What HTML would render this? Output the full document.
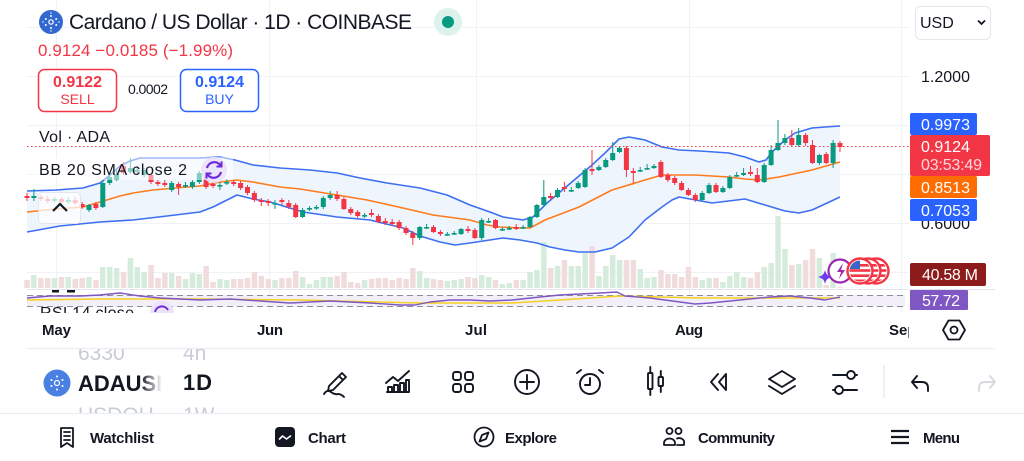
<!DOCTYPE html>
<html><head><meta charset="utf-8"><style>
html,body{margin:0;padding:0;background:#fff;}
svg{display:block;}
</style></head><body>
<svg width="1024" height="461" viewBox="0 0 1024 461" xmlns="http://www.w3.org/2000/svg" font-family="'Liberation Sans', Arial, sans-serif">
<defs>
<clipPath id="sepclip"><rect x="0" y="313" width="909" height="35"/></clipPath>
<clipPath id="pick"><rect x="0" y="349" width="300" height="64"/></clipPath>
<clipPath id="rsiclip"><rect x="0" y="289" width="1024" height="24"/></clipPath>
<clipPath id="flagc"><circle cx="0" cy="0" r="10.5"/></clipPath>
<linearGradient id="fade" x1="0" x2="1" y1="0" y2="0"><stop offset="0" stop-color="#fff" stop-opacity="0"/><stop offset="1" stop-color="#fff" stop-opacity="1"/></linearGradient>
<g id="flag"><circle r="12.5" fill="#fff" stroke="#f23645" stroke-width="2.4"/><g clip-path="url(#flagc)"><rect x="-11" y="-11" width="22" height="22" fill="#fff"/><rect x="-11" y="-7" width="22" height="2.6" fill="#f23645"/><rect x="-11" y="-1.8" width="22" height="2.6" fill="#f23645"/><rect x="-11" y="3.4" width="22" height="2.6" fill="#f23645"/><rect x="-11" y="8.5" width="22" height="2.6" fill="#f23645"/><rect x="-11" y="-11" width="11" height="9" fill="#3d63c9"/></g></g>
</defs>

<!-- grid -->
<g stroke="#f0f2f6" stroke-width="1">
<path d="M27 27.5H909M27 76.5H909M27 125.5H909M27 174.5H909M27 223.5H909M27 272.5H909"/>
<path d="M56.5 0V313M269.5 0V313M476.5 0V313M689.5 0V313M901.5 0V313"/>
</g>
<path d="M27 289.5H995" stroke="#e3e6ec" stroke-width="1"/>

<!-- bollinger fill -->
<polygon fill="#eef5fd" points="27,191 56,190 83,188 100,183 110,175 120,166 130,161 140,158 170,158 200,158 220,157 235,160 253,165 280,168 310,170 337,173 360,178 387,183 420,188 447,195 470,205 490,212 503,217 523,220 533,217 547,203 560,192 579,176 592,165 605,153 619,139 629,137 645,140 662,147 679,150 700,151 729,153 745,157 759,162 766,160 772,152 785,140 795,133 812,128 825,127 840,126 840,197 825,204 812,210 799,213 785,211 765,205 745,199 712,203 679,197 672,200 662,207 645,220 629,237 612,248 595,252 579,252 565,250 550,247 537,243 520,240 503,238 470,243 455,245 440,242 420,236 403,228 370,220 337,217 303,212 270,202 253,199 237,195 227,200 213,207 200,212 167,216 133,220 100,222 60,226 27,232"/>

<!-- volume -->
<path fill="#d5ecdc" d="M31.1 275h5.5V288h-5.5zM51.8 278h5.5V288h-5.5zM65.5 277h5.5V288h-5.5zM86.2 277h5.5V288h-5.5zM100 267h5.5V288h-5.5zM107 267h5.5V288h-5.5zM113.9 268h5.5V288h-5.5zM127.7 258h5.5V288h-5.5zM134.5 267h5.5V288h-5.5zM141.4 272h5.5V288h-5.5zM169 273h5.5V288h-5.5zM182.8 279h5.5V288h-5.5zM189.7 273h5.5V288h-5.5zM196.6 274h5.5V288h-5.5zM217.2 279h5.5V288h-5.5zM224.1 280h5.5V288h-5.5zM272.3 280h5.5V288h-5.5zM299.9 277h5.5V288h-5.5zM306.8 284h5.5V288h-5.5zM313.7 280h5.5V288h-5.5zM320.6 277h5.5V288h-5.5zM327.5 277h5.5V288h-5.5zM361.9 280h5.5V288h-5.5zM417 271h5.5V288h-5.5zM423.9 278h5.5V288h-5.5zM444.6 281h5.5V288h-5.5zM451.5 280h5.5V288h-5.5zM458.4 279h5.5V288h-5.5zM479 275h5.5V288h-5.5zM485.9 277h5.5V288h-5.5zM499.7 284h5.5V288h-5.5zM506.6 283h5.5V288h-5.5zM520.4 280h5.5V288h-5.5zM527.3 272h5.5V288h-5.5zM534.2 270h5.5V288h-5.5zM541.1 242h5.5V288h-5.5zM554.8 266h5.5V288h-5.5zM568.6 266h5.5V288h-5.5zM575.5 266h5.5V288h-5.5zM582.4 253h5.5V288h-5.5zM596.2 276h5.5V288h-5.5zM603.1 266h5.5V288h-5.5zM610 255h5.5V288h-5.5zM616.8 260h5.5V288h-5.5zM637.5 269h5.5V288h-5.5zM644.4 278h5.5V288h-5.5zM651.3 277h5.5V288h-5.5zM699.5 280h5.5V288h-5.5zM706.4 278h5.5V288h-5.5zM720.2 282h5.5V288h-5.5zM727.1 276h5.5V288h-5.5zM734 272h5.5V288h-5.5zM740.9 277h5.5V288h-5.5zM761.5 267h5.5V288h-5.5zM768.4 263h5.5V288h-5.5zM775.3 216h5.5V288h-5.5zM782.2 249h5.5V288h-5.5zM796 264h5.5V288h-5.5zM816.7 258h5.5V288h-5.5zM830.4 253h5.5V288h-5.5z"/>
<path fill="#f0dcdc" d="M24.3 280h5.5V288h-5.5zM38.1 278h5.5V288h-5.5zM45 278h5.5V288h-5.5zM58.8 277h5.5V288h-5.5zM72.5 279h5.5V288h-5.5zM79.4 278h5.5V288h-5.5zM93.2 280h5.5V288h-5.5zM120.8 272h5.5V288h-5.5zM148.3 265h5.5V288h-5.5zM155.2 278h5.5V288h-5.5zM162.1 273h5.5V288h-5.5zM175.9 276h5.5V288h-5.5zM203.4 266h5.5V288h-5.5zM210.3 282h5.5V288h-5.5zM231 279h5.5V288h-5.5zM237.9 279h5.5V288h-5.5zM244.8 278h5.5V288h-5.5zM251.7 272h5.5V288h-5.5zM258.6 276h5.5V288h-5.5zM265.5 279h5.5V288h-5.5zM279.2 278h5.5V288h-5.5zM286.1 278h5.5V288h-5.5zM293 271h5.5V288h-5.5zM334.4 276h5.5V288h-5.5zM341.2 272h5.5V288h-5.5zM348.1 282h5.5V288h-5.5zM355 283h5.5V288h-5.5zM368.8 279h5.5V288h-5.5zM375.7 278h5.5V288h-5.5zM382.6 278h5.5V288h-5.5zM389.5 280h5.5V288h-5.5zM396.4 278h5.5V288h-5.5zM403.3 279h5.5V288h-5.5zM410.1 268h5.5V288h-5.5zM430.8 279h5.5V288h-5.5zM437.7 280h5.5V288h-5.5zM465.3 277h5.5V288h-5.5zM472.2 278h5.5V288h-5.5zM492.8 280h5.5V288h-5.5zM513.5 280h5.5V288h-5.5zM547.9 268h5.5V288h-5.5zM561.7 260h5.5V288h-5.5zM589.3 246h5.5V288h-5.5zM623.7 260h5.5V288h-5.5zM630.6 260h5.5V288h-5.5zM658.2 270h5.5V288h-5.5zM665.1 274h5.5V288h-5.5zM672 274h5.5V288h-5.5zM678.9 277h5.5V288h-5.5zM685.7 267h5.5V288h-5.5zM692.6 277h5.5V288h-5.5zM713.3 278h5.5V288h-5.5zM747.8 278h5.5V288h-5.5zM754.6 272h5.5V288h-5.5zM789.1 265h5.5V288h-5.5zM802.9 260h5.5V288h-5.5zM809.8 249h5.5V288h-5.5zM823.5 285h5.5V288h-5.5zM837.3 287h5.5V288h-5.5z"/>

<!-- bands -->
<polyline fill="none" stroke="#3d6ff2" stroke-width="1.6" stroke-linejoin="round" points="27,191 56,190 83,188 100,183 110,175 120,166 130,161 140,158 170,158 200,158 220,157 235,160 253,165 280,168 310,170 337,173 360,178 387,183 420,188 447,195 470,205 490,212 503,217 523,220 533,217 547,203 560,192 579,176 592,165 605,153 619,139 629,137 645,140 662,147 679,150 700,151 729,153 745,157 759,162 766,160 772,152 785,140 795,133 812,128 825,127 840,126"/>
<polyline fill="none" stroke="#3d6ff2" stroke-width="1.6" stroke-linejoin="round" points="27,232 60,226 100,222 133,220 167,216 200,212 213,207 227,200 237,195 253,199 270,202 303,212 337,217 370,220 403,228 420,236 440,242 455,245 470,243 503,238 520,240 537,243 550,247 565,250 579,252 595,252 612,248 629,237 645,220 662,207 672,200 679,197 712,203 745,199 765,205 785,211 799,213 812,210 825,204 840,197"/>
<polyline fill="none" stroke="#ff7b1c" stroke-width="1.6" stroke-linejoin="round" points="27,212 56,209 83,207 100,202 120,196 133,193 153,190 187,187 200,186 220,182 237,180 253,182 280,187 300,189 337,195 367,200 403,208 433,215 470,220 487,225 500,227 522,228 530,228 545,220 579,207 612,190 645,180 662,175 695,175 729,177 745,179 759,180 779,177 812,170 840,162"/>

<!-- candles: red -->
<path stroke="#f23645" stroke-width="1" fill="none" d="M27 193V201M40.8 195V201M47.7 196V203M61.5 197V204M75.2 197V205M82.1 202V209M95.9 202V210M123.5 162V175M151 173V184M157.9 180V186M164.8 180V187M178.6 182V195M206.1 172V189M213 181V188M233.7 180V186M240.6 181V190M247.5 185V195M254.4 191V202M261.3 198V206M268.2 199V206M281.9 198V205M288.8 200V209M295.7 203V218M337.1 191V201M343.9 197V210M350.8 207V215M357.7 210V218M371.5 209V217M378.4 214V223M385.3 218V225M392.2 219V226M399.1 220V230M406 226V235M412.8 231V245M433.5 225V233M440.4 230V236M468 226V233M474.9 228V239M495.5 219V229M516.2 224V230M550.6 193V200M564.4 182V192M592 150V175M626.4 146V177M633.3 168V183M660.9 160V178M667.8 173V182M674.7 176V185M681.6 181V191M688.4 188V196M695.3 193V202M716 183V193M750.5 166V176M757.3 168V183M791.8 130V147M805.6 133V146M812.5 140V164M826.2 152V164M840 141V152"/>
<path fill="#f23645" d="M24.5 196h5v2h-5zM38.3 197h5v2h-5zM45.2 199h5v2h-5zM59 199h5v3h-5zM72.7 200h5v3h-5zM79.6 204h5v3h-5zM93.4 204h5v4h-5zM121 166h5v7h-5zM148.5 175h5v7h-5zM155.4 182h5v2h-5zM162.3 183h5v2h-5zM176.1 184h5v3h-5zM203.6 175h5v12h-5zM210.5 184h5v2h-5zM231.2 182h5v2h-5zM238.1 183h5v5h-5zM245 187h5v6h-5zM251.9 193h5v7h-5zM258.8 200h5v2h-5zM265.7 201h5v2h-5zM279.4 200h5v2h-5zM286.3 203h5v4h-5zM293.2 205h5v12h-5zM334.6 195h5v4h-5zM341.4 199h5v10h-5zM348.3 209h5v4h-5zM355.2 212h5v4h-5zM369 213h5v2h-5zM375.9 216h5v6h-5zM382.8 221h5v2h-5zM389.7 222h5v2h-5zM396.6 222h5v6h-5zM403.5 228h5v5h-5zM410.3 233h5v5h-5zM431 227h5v5h-5zM437.9 232h5v2h-5zM465.5 229h5v2h-5zM472.4 230h5v8h-5zM493 220h5v8h-5zM513.7 227h5v2h-5zM548.1 196h5v2h-5zM561.9 187h5v2h-5zM589.5 169h5v2h-5zM623.9 148h5v22h-5zM630.8 171h5v2h-5zM658.4 162h5v15h-5zM665.3 175h5v5h-5zM672.2 178h5v5h-5zM679.1 183h5v7h-5zM685.9 190h5v5h-5zM692.8 195h5v5h-5zM713.5 185h5v7h-5zM748 172h5v2h-5zM754.8 175h5v7h-5zM789.3 138h5v7h-5zM803.1 135h5v8h-5zM810 145h5v18h-5zM823.7 154h5v9h-5zM837.5 143h5v4h-5z"/>
<!-- candles: green -->
<path stroke="#089981" stroke-width="1" fill="none" d="M33.9 189V201M54.6 197V203M68.3 197V204M89 204V212M102.8 181V208M109.7 174V185M116.6 168V181M130.4 158V174M137.2 166V175M144.1 168V177M171.7 181V192M185.5 182V188M192.4 180V189M199.3 171V184M219.9 182V190M226.8 179V185M275 200V209M302.6 208V218M309.5 206V211M316.4 205V210M323.3 196V209M330.2 191V200M364.6 213V218M419.7 226V240M426.6 224V229M447.3 232V236M454.2 231V235M461.1 228V235M481.7 218V240M488.6 218V223M502.4 227V231M509.3 226V230M523.1 225V229M530 216V228M536.9 204V218M543.8 180V206M557.5 188V198M571.3 187V192M578.2 181V189M585.1 168V188M598.9 165V171M605.8 158V168M612.7 142V161M619.5 146V153M640.2 167V172M647.1 164V170M654 164V169M702.2 191V201M709.1 183V194M722.9 186V193M729.8 175V189M736.7 172V177M743.6 168V176M764.2 163V183M771.1 145V166M778 120V151M784.9 134V145M798.7 128V147M819.4 154V165M833.1 140V168"/>
<path fill="#089981" d="M31.4 196h5v2h-5zM52.1 199h5v2h-5zM65.8 200h5v2h-5zM86.5 205h5v5h-5zM100.3 183h5v24h-5zM107.2 177h5v6h-5zM114.1 174h5v6h-5zM127.9 168h5v4h-5zM134.7 170h5v1.6h-5zM141.6 170h5v5h-5zM169.2 183h5v7h-5zM183 185h5v1.6h-5zM189.9 182h5v5h-5zM196.8 173h5v9h-5zM217.4 185h5v1.6h-5zM224.3 182h5v1.6h-5zM272.5 203h5v1.6h-5zM300.1 210h5v7h-5zM307 208h5v1.6h-5zM313.9 207h5v1.6h-5zM320.8 198h5v9h-5zM327.7 195h5v3h-5zM362.1 215h5v1.6h-5zM417.2 227h5v11h-5zM424.1 227h5v1.6h-5zM444.8 234h5v1.6h-5zM451.7 233h5v1.6h-5zM458.6 229h5v5h-5zM479.2 220h5v18h-5zM486.1 221h5v1.6h-5zM499.9 229h5v1.6h-5zM506.8 228h5v1.6h-5zM520.6 227h5v1.6h-5zM527.5 217h5v10h-5zM534.4 205h5v12h-5zM541.3 197h5v8h-5zM555 190h5v7h-5zM568.8 190h5v1.6h-5zM575.7 183h5v5h-5zM582.6 170h5v17h-5zM596.4 167h5v3h-5zM603.3 160h5v7h-5zM610.2 153h5v7h-5zM617 148h5v4h-5zM637.7 170h5v1.6h-5zM644.6 168h5v1.6h-5zM651.5 166h5v2h-5zM699.7 193h5v7h-5zM706.6 185h5v8h-5zM720.4 188h5v4h-5zM727.3 177h5v11h-5zM734.2 175h5v1.6h-5zM741.1 173h5v2h-5zM761.7 165h5v17h-5zM768.6 150h5v15h-5zM775.5 143h5v7h-5zM782.4 138h5v5h-5zM796.2 135h5v10h-5zM816.9 155h5v8h-5zM830.6 143h5v20h-5z"/>

<!-- current price line -->
<path d="M27 146.5H910" stroke="#f23645" stroke-width="1" stroke-dasharray="1.5 2.5"/>

<!-- legend fade overlay -->
<rect x="35" y="157" width="198" height="23" fill="#fff" opacity="0.5"/>

<!-- collapse button -->
<rect x="38.5" y="192.5" width="42" height="31" rx="4" fill="#fff" fill-opacity="0.72" stroke="#e3e6ec"/>
<path d="M53 211l7-7 7 7" fill="none" stroke="#131722" stroke-width="2.2"/>

<!-- RSI pane -->
<rect x="27" y="295" width="878" height="12" fill="#f2eff9"/>
<path d="M27 295.5H905M27 306.5H905" stroke="#8c8f99" stroke-width="1" stroke-dasharray="6 4"/>
<polyline fill="none" stroke="#f5d020" stroke-width="1.4" points="27,300 100,299 200,299 300,300 420,303 512,303 560,300 620,296 700,298 780,298 840,298"/>
<polyline fill="none" stroke="#7e57c2" stroke-width="1.4" stroke-linejoin="round" points="27,298 50,296 80,296 100,295 120,293 140,296 160,298 180,299 200,300 230,299 260,301 290,303 310,302 330,301 350,302 370,303 400,305 415,305 430,302 450,300 470,300 490,301 512,300 540,297 560,295 580,294 600,293 617,292 625,296 650,298 680,302 695,304 710,303 730,301 750,299 770,297 790,296 810,298 825,300 840,297"/>
<rect x="52" y="290" width="7" height="2.5" fill="#131722"/>
<rect x="67" y="290" width="8" height="2.5" fill="#131722"/>
<g clip-path="url(#rsiclip)">
<text x="40" y="318" font-size="16" fill="#131722" textLength="94">RSI 14 close</text>
<circle cx="162" cy="313" r="12" fill="#ebe3fb"/>
<path d="M155 312a7 7 0 0 1 13 -2" fill="none" stroke="#6d28d9" stroke-width="2"/>
</g>

<!-- overlay icons -->
<circle cx="840" cy="271" r="11.5" fill="#fff" stroke="#9c27b0" stroke-width="2.2"/>
<path d="M843 263l-6 9h4l-2 7 6-9h-4z" fill="#9c27b0"/>
<path d="M825 270q1 6 7 7q-6 1-7 7q-1-6-7-7q6-1 7-7z" fill="#6a3df0"/>
<use href="#flag" x="876" y="271"/>
<use href="#flag" x="868" y="271"/>
<use href="#flag" x="860" y="271"/>

<!-- price axis -->
<text x="921" y="82" font-size="16" fill="#131722" textLength="49">1.2000</text>
<text x="921" y="229" font-size="16" fill="#131722" textLength="49">0.6000</text>
<rect x="910" y="113" width="67" height="22" rx="2" fill="#2962ff"/>
<text x="921" y="130" font-size="16" fill="#fff" textLength="49">0.9973</text>
<rect x="910" y="135" width="80" height="41" rx="2" fill="#f23645"/>
<text x="921" y="152" font-size="16" fill="#fff" textLength="49">0.9124</text>
<text x="921" y="170" font-size="16" fill="#ffd9dc" textLength="61">03:53:49</text>
<rect x="910" y="176" width="67" height="22" rx="2" fill="#ff6d00"/>
<text x="921" y="193" font-size="16" fill="#fff" textLength="49">0.8513</text>
<rect x="910" y="199" width="67" height="22" rx="2" fill="#2962ff"/>
<text x="921" y="216" font-size="16" fill="#fff" textLength="49">0.7053</text>
<rect x="910" y="263" width="76" height="23" rx="2" fill="#8c1c1c"/>
<text x="922" y="280" font-size="16" fill="#fff" textLength="56">40.58 M</text>
<rect x="910" y="290" width="58" height="20" rx="1" fill="#7e57c2"/>
<text x="922" y="306" font-size="16" fill="#fff" textLength="38">57.72</text>

<!-- header -->
<circle cx="51" cy="22" r="12" fill="#3468d1"/>
<g fill="#fff"><circle cx="51" cy="22" r="2.2" fill="none" stroke="#fff" stroke-width="1.2"/><circle cx="51" cy="16" r="1"/><circle cx="51" cy="28" r="1"/><circle cx="45.8" cy="19" r="1"/><circle cx="56.2" cy="19" r="1"/><circle cx="45.8" cy="25" r="1"/><circle cx="56.2" cy="25" r="1"/><circle cx="51" cy="13" r="0.7"/><circle cx="51" cy="31" r="0.7"/><circle cx="43" cy="22" r="0.7"/><circle cx="59" cy="22" r="0.7"/></g>
<text x="69" y="29" font-size="21" fill="#131722" textLength="343">Cardano / US Dollar · 1D · COINBASE</text>
<circle cx="448" cy="22" r="14" fill="#dcf2ec"/>
<circle cx="448" cy="22" r="6" fill="#089981"/>
<text x="38" y="56" font-size="17" fill="#f23645" textLength="195">0.9124  −0.0185 (−1.99%)</text>
<rect x="38.5" y="69.5" width="78" height="42" rx="6" fill="#fff" stroke="#f23645" stroke-width="1.5"/>
<text x="77.5" y="87" font-size="16" font-weight="bold" fill="#f23645" text-anchor="middle">0.9122</text>
<text x="77.5" y="104" font-size="14" fill="#f23645" text-anchor="middle">SELL</text>
<text x="128" y="94" font-size="14" fill="#131722" textLength="40">0.0002</text>
<rect x="180.5" y="69.5" width="78" height="42" rx="6" fill="#fff" stroke="#2962ff" stroke-width="1.5"/>
<text x="219.5" y="87" font-size="16" font-weight="bold" fill="#2962ff" text-anchor="middle">0.9124</text>
<text x="219.5" y="104" font-size="14" fill="#2962ff" text-anchor="middle">BUY</text>
<text x="39" y="142" font-size="16" fill="#131722" textLength="71">Vol · ADA</text>
<text x="39" y="175" font-size="16" fill="#131722" textLength="148">BB 20 SMA close 2</text>
<circle cx="214" cy="170" r="13" fill="#e9e1fb" opacity="0.9"/>
<path d="M207 168a7.5 7.5 0 0 1 13.5 -2.5M221 172a7.5 7.5 0 0 1 -13.5 2.5" fill="none" stroke="#6d28d9" stroke-width="2.2"/>
<path d="M221.5 161.5v5h-5M206.5 178.5v-5h5" fill="none" stroke="#6d28d9" stroke-width="2"/>

<!-- USD dropdown -->
<rect x="915.5" y="6.5" width="75" height="33" rx="5" fill="#fff" stroke="#e3e6ec"/>
<text x="920" y="28" font-size="16" fill="#131722">USD</text>
<path d="M978 20.5l3.5 3.5 3.5-3.5" fill="none" stroke="#131722" stroke-width="1.8"/>

<!-- date axis -->
<rect x="0" y="313" width="1024" height="35" fill="#fff"/>
<g font-size="15" font-weight="bold" fill="#131722" clip-path="url(#sepclip)">
<text x="42" y="335" textLength="29">May</text>
<text x="257" y="335" textLength="26">Jun</text>
<text x="465" y="335" textLength="22">Jul</text>
<text x="675" y="335" textLength="28">Aug</text>
<text x="889" y="335">Sep</text>
</g>
<polygon points="943,330 948.5,320.5 959.5,320.5 965,330 959.5,339.5 948.5,339.5" fill="none" stroke="#131722" stroke-width="1.8" stroke-linejoin="round"/>
<circle cx="954" cy="330" r="3.5" fill="none" stroke="#131722" stroke-width="1.8"/>

<path d="M27 348.5H995" stroke="#eceef2" stroke-width="1.2"/>
<path d="M0 413.5H1024" stroke="#eceef2" stroke-width="1.2"/>

<!-- toolbar: symbol picker -->
<g clip-path="url(#pick)">
<text x="78" y="360" font-size="21" fill="#c9ccd3">6330</text>
<text x="183" y="360" font-size="21" fill="#c9ccd3">4h</text>
<text x="78" y="422" font-size="21" fill="#c9ccd3">USDOH</text>
<text x="183" y="422" font-size="21" fill="#c9ccd3">1W</text>
</g>
<circle cx="57" cy="383" r="13.5" fill="#4a80e2"/>
<g fill="#fff"><circle cx="57" cy="383" r="2.5" fill="none" stroke="#fff" stroke-width="1.2"/><circle cx="57" cy="376.5" r="1"/><circle cx="57" cy="389.5" r="1"/><circle cx="51.5" cy="380" r="1"/><circle cx="62.5" cy="380" r="1"/><circle cx="51.5" cy="386" r="1"/><circle cx="62.5" cy="386" r="1"/></g>
<text x="78" y="391" font-size="22" font-weight="bold" fill="#131722">ADAUSD</text>
<rect x="140" y="366" width="22" height="32" fill="url(#fade)"/>
<rect x="162" y="366" width="18" height="32" fill="#fff"/>
<text x="183" y="390" font-size="22" font-weight="bold" fill="#131722" textLength="29">1D</text>

<!-- toolbar icons -->
<g fill="none" stroke="#131722" stroke-width="1.9" stroke-linejoin="round" stroke-linecap="round">
<path d="M329 386l13-13 4 4-13 13-5 1z M339 376l4 4"/>
<path d="M324 394q3-5 7-2t7 2q3 0 6 3"/>
<path d="M386 383l7-6 5 4 11-10"/>
<path d="M387 392h22M388 392v-5h4v5M394 392v-7h4v7M400 392v-9h4v9M406 392v-12h3v12"/>
<rect x="453" y="372" width="8" height="8" rx="2.5"/><rect x="465" y="372" width="8" height="8" rx="2.5"/>
<rect x="453" y="384" width="8" height="8" rx="2.5"/><rect x="465" y="384" width="8" height="8" rx="2.5"/>
<circle cx="527" cy="382" r="12"/><path d="M527 375v14M520 382h14"/>
<circle cx="590" cy="384" r="10"/><path d="M590 378v7h-5M577 373l4-3M603 373l-4-3"/>
<rect x="648" y="373" width="4.5" height="16" rx="1"/><path d="M650.3 367v6M650.3 389v6"/>
<rect x="658.5" y="377" width="4.5" height="9" rx="1"/><path d="M660.8 371v6M660.8 386v6"/>
<path d="M718 374l-7 8 7 8M726 374l-7 8 7 8M726 374v16"/>
<path d="M782 371l13 8-13 8-13-8z M769 386l13 8 13-8"/>
<path d="M833 375h13M857 375h-1M833 390h2M844 390h13"/>
<circle cx="851" cy="375" r="4"/><circle cx="839" cy="390" r="4"/>
<path d="M928 391v-3q0-6-6-6h-10M917 376l-5 6 5 6"/>
</g>
<path d="M884 365V398" stroke="#e3e6ec" stroke-width="1.2"/>
<path d="M979 391v-3q0-6 6-6h10M990 376l5 6-5 6" fill="none" stroke="#d7dae0" stroke-width="1.9" stroke-linejoin="round" stroke-linecap="round"/>

<!-- bottom nav -->
<g fill="none" stroke="#131722" stroke-width="1.8" stroke-linejoin="round" stroke-linecap="round">
<path d="M61 428h12v19l-6-4-6 4z M64 432h6M64 436h6M64 440h6"/>
<circle cx="484" cy="437" r="9.5"/><path d="M488.5 432.5L486 439l-6.5 2.5L482 435z"/>
<circle cx="669.5" cy="431" r="3"/><circle cx="678.5" cy="431" r="3"/>
<path d="M664 445v-2a5.5 4.5 0 0 1 11 0v2z M677 438.5a5 4 0 0 1 7 4.5v2h-7"/>
</g>
<rect x="275" y="427" width="20" height="20" rx="4" fill="#131722"/>
<path d="M279.5 439l3-3 4 3 4-3" fill="none" stroke="#fff" stroke-width="1.6" stroke-linecap="round" stroke-linejoin="round"/>
<path d="M891 431h18M891 437h18M891 443h18" stroke="#131722" stroke-width="2.3"/>
<g font-size="15" font-weight="bold" fill="#131722">
<text x="90" y="443" textLength="64">Watchlist</text>
<text x="308" y="443" textLength="38">Chart</text>
<text x="505" y="443" textLength="52">Explore</text>
<text x="698" y="443" textLength="77">Community</text>
<text x="923" y="443" textLength="37">Menu</text>
</g>
</svg>
</body></html>
